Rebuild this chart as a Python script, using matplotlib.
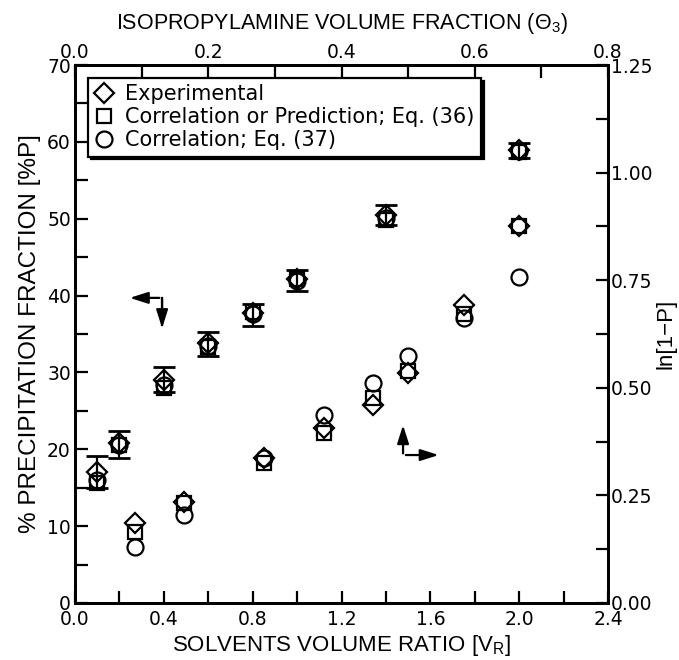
import numpy as np
import matplotlib.pyplot as plt
from matplotlib.ticker import MultipleLocator, FormatStrFormatter

plt.rcParams['font.family'] = ['Liberation Sans', 'DejaVu Sans']
plt.rcParams['mathtext.fontset'] = 'custom'
plt.rcParams['mathtext.rm'] = 'Liberation Sans'

# Upper group: % precipitation fraction (left axis)
vr_p = [0.1, 0.2, 0.4, 0.6, 0.8, 1.0, 1.4, 2.0]
p_exp = [17.0, 20.8, 29.0, 33.8, 37.7, 42.1, 50.5, 58.9]
p_err_lo = [15.0, 18.9, 27.4, 32.2, 36.0, 40.6, 49.2, 57.9]
p_err_hi = [19.1, 22.4, 30.7, 35.2, 38.9, 43.3, 51.8, 59.9]
p_eq36 = [15.6, 20.6, 28.0, 33.3, 37.8, 42.2, 49.8, 58.7]
p_eq37 = [16.0, 20.5, 28.4, 33.5, 37.6, 41.9, 50.1, 58.8]

# Lower group: ln[1-P] (right axis)
vr_l = [0.27, 0.49, 0.85, 1.12, 1.34, 1.50, 1.75, 2.0]
l_exp = [0.186, 0.234, 0.337, 0.407, 0.459, 0.534, 0.693, 0.877]
l_eq36 = [0.164, 0.232, 0.325, 0.395, 0.477, 0.538, 0.671, 0.877]
l_eq37 = [0.130, 0.204, 0.338, 0.436, 0.512, 0.573, 0.661, 0.757]

fig = plt.figure(figsize=(6.79, 6.60), dpi=100)
ax = fig.add_axes([0.1105, 0.0864, 0.785, 0.8151])
ax2 = ax.twinx()

mk = dict(ls='none', mfc='none', mec='black', mew=1.6)

p_exp_a = np.array(p_exp)
yerr = [p_exp_a - np.array(p_err_lo), np.array(p_err_hi) - p_exp_a]
ax.errorbar(vr_p, p_exp, yerr=yerr, fmt='none', ecolor='black',
            elinewidth=1.6, capsize=8, capthick=2)
ax.plot(vr_p, p_exp, marker='D', ms=10, **mk)
ax.plot(vr_p, p_eq36, marker='s', ms=10, **mk)
ax.plot(vr_p, p_eq37, marker='o', ms=11.5, **mk)

ax2.plot(vr_l, l_exp, marker='D', ms=10, **mk)
ax2.plot(vr_l, l_eq36, marker='s', ms=10, **mk)
ax2.plot(vr_l, l_eq37, marker='o', ms=11.5, **mk)

ax.set_xlim(0, 2.4)
ax.set_ylim(0, 70)
ax2.set_ylim(0, 1.25)

ax.xaxis.set_major_locator(MultipleLocator(0.4))
ax.xaxis.set_minor_locator(MultipleLocator(0.2))
ax.xaxis.set_major_formatter(FormatStrFormatter('%.1f'))
ax.yaxis.set_major_locator(MultipleLocator(10))
ax.yaxis.set_minor_locator(MultipleLocator(5))
ax2.yaxis.set_major_locator(MultipleLocator(0.25))
ax2.yaxis.set_minor_locator(MultipleLocator(0.125))
ax2.yaxis.set_major_formatter(FormatStrFormatter('%.2f'))

top = ax.secondary_xaxis('top', functions=(lambda x: x / 3.0, lambda x: x * 3.0))
top.xaxis.set_major_locator(MultipleLocator(0.2))
top.xaxis.set_minor_locator(MultipleLocator(0.1))
top.xaxis.set_major_formatter(FormatStrFormatter('%.1f'))

for a in (ax, ax2, top):
    a.tick_params(which='both', direction='in', width=1.6, labelsize=13.5,
                  labelfontfamily='DejaVu Sans', length=9)
ax.tick_params(axis='x', pad=5)
ax.tick_params(axis='y', pad=3)
ax2.tick_params(axis='y', pad=2)
top.tick_params(axis='x', pad=2)
for a in (ax, ax2):
    for s in a.spines.values():
        s.set_linewidth(2)
top.spines['top'].set_linewidth(2)

ax.set_xlabel('SOLVENTS VOLUME RATIO [V$_\\mathrm{R}$]', fontsize=16, labelpad=3)
ax.set_ylabel('% PRECIPITATION FRACTION [%P]', fontsize=17.5, labelpad=4)
ax2.set_ylabel('ln[1\u2212P]', fontsize=16, labelpad=2)
top.set_xlabel('ISOPROPYLAMINE VOLUME FRACTION (\u0398$_\\mathrm{3}$)', fontsize=15.5, labelpad=10)

# bent arrows
arr = dict(arrowstyle='-|>,head_length=1.1,head_width=0.35', color='black', lw=1.6)
ax.plot([0.392, 0.392], [39.7, 36.2], color='black', lw=1.6)
ax.annotate('', xy=(0.234, 39.7), xytext=(0.392, 39.7), arrowprops=arr)
ax.annotate('', xy=(0.392, 35.4), xytext=(0.392, 39.9), arrowprops=arr)
ax.annotate('', xy=(1.477, 23.5), xytext=(1.477, 19.1), arrowprops=arr)
ax.annotate('', xy=(1.65, 19.25), xytext=(1.477, 19.25), arrowprops=arr)

h1, = ax.plot([], [], marker='D', ms=10, **mk)
h2, = ax.plot([], [], marker='s', ms=10, **mk)
h3, = ax.plot([], [], marker='o', ms=11.5, **mk)
leg = ax.legend([h1, h2, h3],
                ['Experimental', 'Correlation or Prediction; Eq. (36)', 'Correlation; Eq. (37)'],
                loc='upper left', bbox_to_anchor=(0.024, 0.976), borderaxespad=0,
                prop={'family': 'DejaVu Sans', 'size': 15}, frameon=True,
                fancybox=False, handlelength=1.0, handletextpad=0.5,
                labelspacing=0.15, borderpad=0.3,
                shadow={'color': 'black', 'alpha': 1})
leg.get_frame().set_edgecolor('black')
leg.get_frame().set_linewidth(1.6)
leg.get_frame().set_alpha(1)

fig.savefig('out.png', dpi=100)
